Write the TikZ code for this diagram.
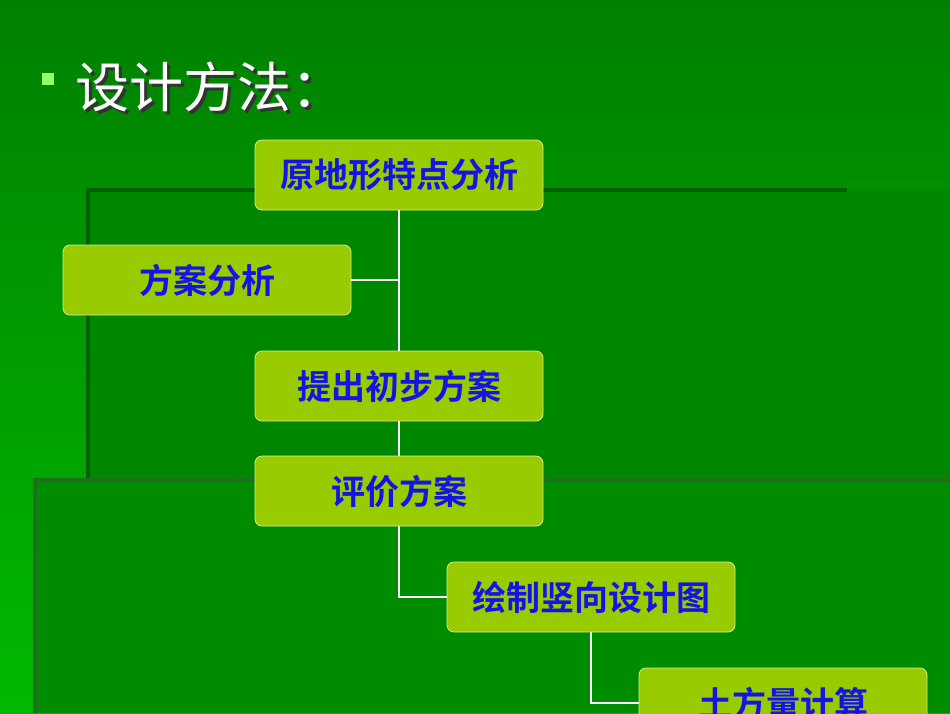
\documentclass[tikz,border=0pt]{standalone}
\usepackage{fontspec}
\newfontfamily\cjk{Noto Sans CJK SC}
\newfontfamily\cjkb{Noto Sans CJK SC Bold}
\definecolor{boxfill}{RGB}{153,204,0}
\definecolor{boxtext}{RGB}{20,20,230}
\definecolor{bgL}{RGB}{0,185,0}
\definecolor{bgtop}{RGB}{0,128,0}
\definecolor{panA}{RGB}{0,135,0}
\definecolor{panB}{RGB}{0,140,0}
\definecolor{edgeA}{RGB}{0,95,0}
\definecolor{edgeB}{RGB}{30,110,30}
\definecolor{bullet}{RGB}{150,255,100}
\begin{document}
\begin{tikzpicture}[x=1pt,y=-1pt,
  box/.style={draw=white!60!boxfill,line width=0.8pt,fill=boxfill,rounded corners=7pt,minimum width=288pt,minimum height=70pt,inner sep=0pt,font=\cjkb\fontsize{34}{34}\selectfont,text=boxtext},
  link/.style={draw=white,line width=1.5pt},
  ttl/.style={anchor=west,font=\cjk\fontsize{54}{54}\selectfont}]
\useasboundingbox (0,0) rectangle (950,713);
\shade[top color=bgtop,bottom color=bgL] (0,0) rectangle (950,713);
\fill[panA] (88,190) rectangle (950,713);
\draw[edgeA,line width=4pt] (88,713) -- (88,190) -- (847,190);
\fill[panB] (35,480) rectangle (950,713);
\draw[edgeB,line width=4pt] (35,713) -- (35,480) -- (950,480);
\fill[bullet] (42,73) rectangle (54,85);
\node[ttl,text=black!80] at (75,90) {设计方法：};
\node[ttl,text=white] (title) at (72,87) {设计方法：};
\node[box] (a) at (399,175) {原地形特点分析};
\node[box] (b) at (207,280) {方案分析};
\node[box] (c) at (399,386) {提出初步方案};
\node[box] (d) at (399,491) {评价方案};
\node[box] (e) at (591,597) {绘制竖向设计图};
\node[box] (f) at (783,703) {土方量计算};
\draw[link] (a.south) -- (c.north);
\draw[link] (b.east) -- (b.east -| a.south);
\draw[link] (c.south) -- (d.north);
\draw[link] (d.south) |- (e.west);
\draw[link] (e.south) |- (f.west);
\end{tikzpicture}
\end{document}
